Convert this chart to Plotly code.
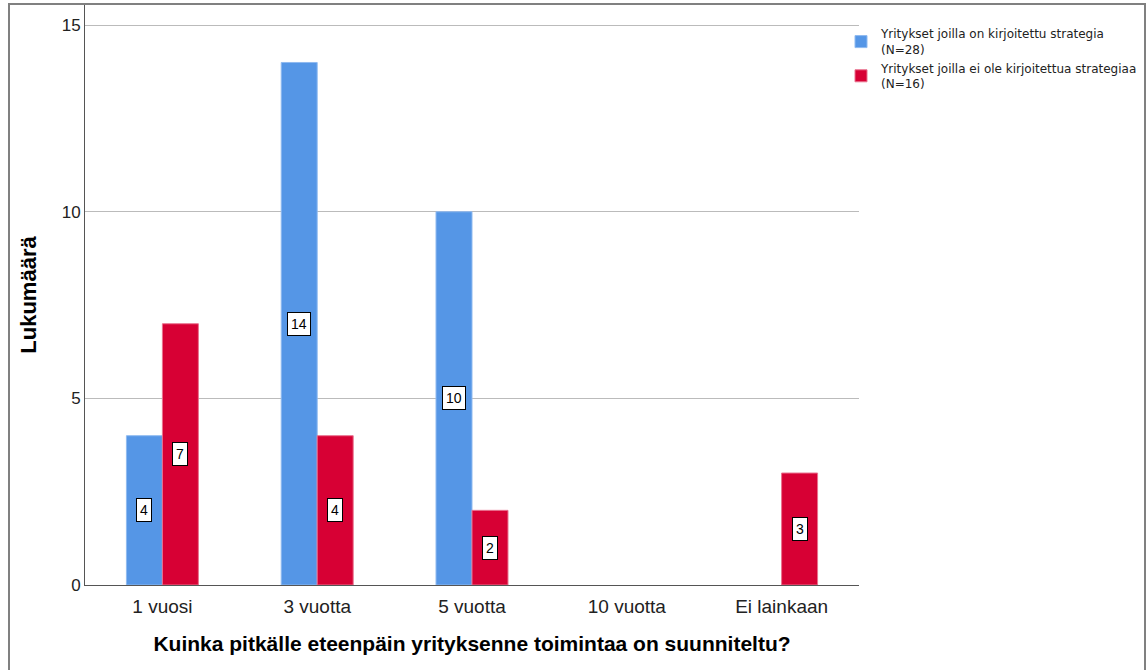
import plotly.graph_objects as go

categories = ["1 vuosi", "3 vuotta", "5 vuotta", "10 vuotta", "Ei lainkaan"]
series_names = ["Yritykset joilla on kirjoitettu strategia<br>(N=28)",
                "Yritykset joilla ei ole kirjoitettua strategiaa<br>(N=16)"]
with_strategy = [4, 14, 10, 0, 0]
without_strategy = [7, 4, 2, 0, 3]
colors = ["#5596E6", "#D70034"]
edge_colors = ["#8FBAF0", "#E9728F"]

W, H = 1147, 670
L, R, T, B = 85, 288, 5, 85
pw, ph = W - L - R, H - T - B

fig = go.Figure()
for name, vals, c, ec in zip(series_names, [with_strategy, without_strategy], colors, edge_colors):
    fig.add_trace(go.Bar(x=categories, y=vals, name=name, marker_color=c,
                         marker_line=dict(color=ec, width=[1 if v > 0 else 0 for v in vals])))

bargap = 0.535
bar_px = pw / len(categories) * (1 - bargap) / 2
annotations = []
for vals, shift in [(with_strategy, -bar_px / 2), (without_strategy, bar_px / 2)]:
    for cat, v in zip(categories, vals):
        if v > 0:
            annotations.append(dict(x=cat, y=v / 2, xref="x", yref="y", text=str(v),
                                    showarrow=False, xshift=shift,
                                    font=dict(family="Arial", size=14, color="black"),
                                    bgcolor="white", bordercolor="black", borderwidth=1,
                                    borderpad=3))

fig.update_layout(
    width=W, height=H,
    margin=dict(l=L, r=R, t=T, b=B, autoexpand=False),
    paper_bgcolor="white", plot_bgcolor="white",
    barmode="group", bargap=bargap, bargroupgap=0,
    font=dict(family="Arial", color="black"),
    annotations=annotations,
    legend=dict(x=(841 - L) / pw, xanchor="left", y=0.975, yanchor="top",
                font=dict(family="DejaVu Sans", size=12, color="#222222"),
                itemwidth=30, tracegroupgap=2, bgcolor="rgba(0,0,0,0)"),
    xaxis=dict(showline=True, linecolor="#555555", linewidth=1, ticks="", automargin=False,
               tickfont=dict(size=19, color="#222222"), ticklabelstandoff=4,
               title=dict(text="<b>Kuinka pitkälle eteenpäin yrityksenne toimintaa on suunniteltu?</b>",
                          font=dict(size=21, color="black"), standoff=20)),
    yaxis=dict(range=[0, 15.54], tickvals=[0, 5, 10, 15], showline=True, automargin=False,
               linecolor="#555555", linewidth=1, gridcolor="#BBBBBB", gridwidth=1,
               zeroline=False, ticks="", tickfont=dict(size=17, color="#222222"),
               title=dict(text="<b>Lukumäärä</b>", font=dict(size=22, color="black"), standoff=18)),
    shapes=[dict(type="rect", xref="paper", yref="paper",
                 x0=(9 - L) / pw, x1=(1145 - L) / pw,
                 y0=-(H + 10 - (H - B)) / ph, y1=(H - B - 4) / ph,
                 line=dict(color="#808080", width=2), layer="above")],
)
fig.write_html("out.html")
